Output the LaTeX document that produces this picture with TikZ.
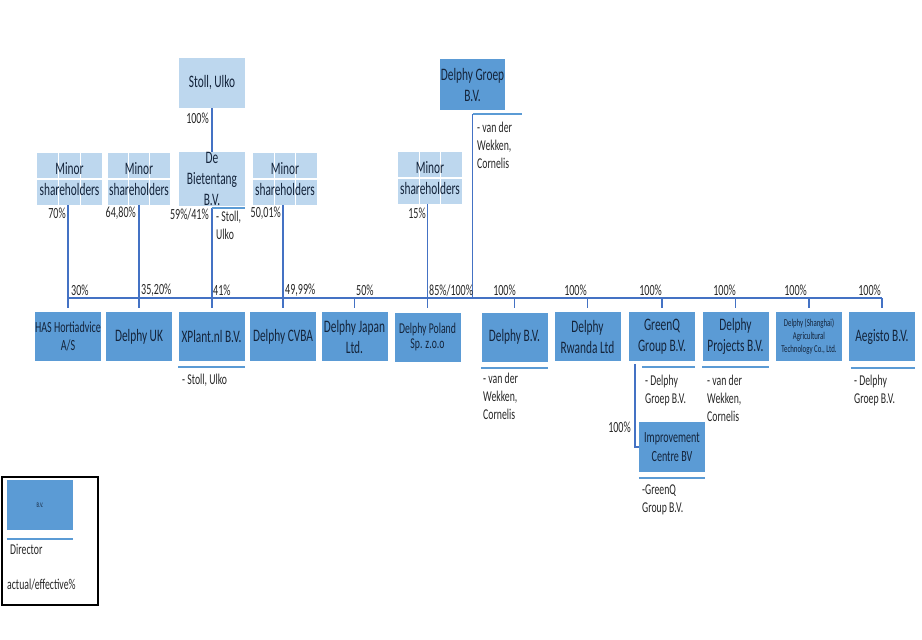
\documentclass[tikz,border=0pt]{standalone}
\usepackage{fontspec}
\setmainfont{Carlito}[FakeStretch=0.65]
\usetikzlibrary{calc}
\definecolor{db}{HTML}{5B9BD5}
\definecolor{lb}{HTML}{BDD7EE}
\definecolor{cn}{HTML}{4472C4}
\definecolor{tx}{HTML}{14243B}
\definecolor{lbl}{HTML}{262626}
\newcommand\fBox{\fontsize{17.5}{21}\selectfont}
\newcommand\fMid{\fontsize{15.5}{18.7}\selectfont}
\newcommand\fPol{\fontsize{15}{15.5}\selectfont}
\newcommand\fDir{\fontsize{15}{17.8}\selectfont}
\newcommand\fTiny{\fontsize{10.5}{13.3}\selectfont}
\newcommand\fLeg{\fontsize{7}{8}\selectfont}
\begin{document}
\begin{tikzpicture}[x=1pt,y=-1pt,
  cobox/.style={fill=db, minimum width=66pt, minimum height=49pt, inner sep=0pt, align=center, text=tx, font=\fBox},
  lbox/.style={fill=lb, minimum width=66pt, minimum height=52pt, inner sep=0pt, align=center, text=tx, font=\fBox},
  grid3/.style={lbox, path picture={
      \draw[white, line width=1.6pt]
        ($(path picture bounding box.north west)!1/3!(path picture bounding box.north east)$) --
        ($(path picture bounding box.south west)!1/3!(path picture bounding box.south east)$)
        ($(path picture bounding box.north west)!2/3!(path picture bounding box.north east)$) --
        ($(path picture bounding box.south west)!2/3!(path picture bounding box.south east)$)
        ($(path picture bounding box.north west)!1/2!(path picture bounding box.south west)$) --
        ($(path picture bounding box.north east)!1/2!(path picture bounding box.south east)$);}},
  conn/.style={draw=cn, line width=1.4pt},
  dirl/.style={draw=db, line width=1.8pt},
  pct/.style={inner sep=0pt, text=lbl, font=\fMid},
  dtext/.style={inner sep=0pt, anchor=north west, align=left, text=lbl, font=\fDir},
]
\useasboundingbox (0,0) rectangle (922,640);

% upper level
\node[lbox, minimum height=50pt] (stoll) at (212,83) {Stoll, Ulko};
\node[lbox] (biet) at (212,179) {De\\Bietentang\\B.V.};
\node[grid3, minimum width=65pt] (ms1) at (69.5,179) {Minor\\shareholders};
\node[grid3, minimum width=62pt] (ms2) at (139,179) {Minor\\shareholders};
\node[grid3, minimum width=64pt] (ms3) at (285,179) {Minor\\shareholders};
\node[grid3, minimum width=64pt] (ms4) at (430,178) {Minor\\shareholders};
\node[cobox, minimum width=65pt, minimum height=51pt] (dg) at (472.5,84.5) {Delphy Groep\\B.V.};

% companies
\node[cobox, font=\fMid] (has) at (68,336.5) {HAS Hortiadvice\\A/S};
\node[cobox] (uk) at (139,336.5) {Delphy UK};
\node[cobox] (xpl) at (211.5,336.5) {XPlant.nl B.V.};
\node[cobox] (cvba) at (283,336.5) {Delphy CVBA};
\node[cobox] (jap) at (354.5,336.5) {Delphy Japan\\Ltd.};
\node[cobox, font=\fPol] (pol) at (427.5,337) {Delphy Poland\\Sp. z.o.o};
\node[cobox] (dbv) at (514.5,337) {Delphy B.V.};
\node[cobox] (rwa) at (587.5,336.5) {Delphy\\Rwanda Ltd};
\node[cobox] (grq) at (662,336.5) {GreenQ\\Group B.V.};
\node[cobox] (prj) at (735.5,336.5) {Delphy\\Projects B.V.};
\node[cobox, font=\fTiny] (sha) at (809,336.5) {Delphy (Shanghai)\\Agricultural\\Technology Co., Ltd.};
\node[cobox] (aeg) at (882,336.5) {Aegisto B.V.};
\node[cobox, font=\fMid, minimum height=50pt] (imp) at (672,447) {Improvement\\Centre BV};

% bar
\coordinate (bar) at (0,298);
\draw[conn, line width=1.8pt] (has.north |- bar) -- (aeg.north |- bar);

% connectors
\draw[conn] (stoll) -- (biet);
\draw[conn, shorten >=4pt] (has.north |- ms1.south) -- (has.north);
\draw[conn, shorten >=4pt] (uk.north |- ms2.south) -- (uk.north);
\draw[conn, shorten >=4pt] ([yshift=-2pt]biet.south) -- (biet.south |- xpl.north);
\draw[conn, shorten >=4pt] (cvba.north |- ms3.south) -- (cvba.north);
\draw[conn, shorten >=4pt] (pol.north |- ms4.south) -- (pol.north);
\draw[conn] ([yshift=-4pt]dg.south) -- (dg.south |- bar);
\foreach \n in {jap,dbv,rwa,grq,prj,sha,aeg}
  \draw[conn, shorten >=4pt] (\n.north |- bar) -- (\n.north);
\draw[conn] ([xshift=6pt,yshift=-3pt]grq.south west) |- (imp.west);

% director lines
\draw[dirl] ([yshift=-2pt]biet.south) -- ([yshift=-2pt]biet.south east);
\draw[dirl] ([yshift=-4pt]dg.south) -- ++(49,0);
\draw[dirl] ([yshift=-6pt]xpl.south west) -- ([yshift=-6pt]xpl.south east);
\draw[dirl] ([yshift=-6.5pt]dbv.south west) -- ([yshift=-6.5pt]dbv.south east);
\draw[dirl] ([xshift=13pt,yshift=-6pt]grq.south west) -- ([yshift=-6pt]grq.south east);
\draw[dirl] ([yshift=-6pt]prj.south west) -- ([yshift=-6pt]prj.south east);
\draw[dirl] ([xshift=2pt,yshift=-6.5pt]aeg.south west) -- ([yshift=-6.5pt]aeg.south east);
\draw[dirl] ([yshift=-6pt]imp.south west) -- ([yshift=-6pt]imp.south east);

% director texts
\node[dtext] (tdg) at (477,122) {- van der\\Wekken,\\Cornelis};
\node[dtext] (tbiet) at (216,211) {- Stoll,\\Ulko};
\node[dtext] (txpl) at (182,374) {- Stoll, Ulko};
\node[dtext] (tdbv) at (483,373) {- van der\\Wekken,\\Cornelis};
\node[dtext] (tgrq) at (645,375) {- Delphy\\Groep B.V.};
\node[dtext] (tprj) at (707,375) {- van der\\Wekken,\\Cornelis};
\node[dtext] (taeg) at (854,375) {- Delphy\\Groep B.V.};
\node[dtext] (timp) at (642,485) {-GreenQ\\Group B.V.};

% percentages
\node[pct, anchor=east] (p1) at (209,118) {100\%};
\node[pct, anchor=east] (p2) at (66,213) {70\%};
\node[pct, anchor=east] (p3) at (136,213) {64,80\%};
\node[pct, anchor=east] (p4) at (209,214) {59\%/41\%};
\node[pct, anchor=east] (p5) at (281,213) {50,01\%};
\node[pct, anchor=east] (p6) at (426,213) {15\%};
\node[pct, anchor=west] (p7) at (71,290) {30\%};
\node[pct, anchor=west] (p8) at (141,290) {35,20\%};
\node[pct, anchor=west] (p9) at (213,290) {41\%};
\node[pct, anchor=west] (p10) at (285,290) {49,99\%};
\node[pct, anchor=west] (p11) at (356,290) {50\%};
\node[pct, anchor=west] (p12) at (429,290) {85\%/100\%};
\node[pct, anchor=east] (p13) at (516,290) {100\%};
\node[pct, anchor=east] (p14) at (587,290) {100\%};
\node[pct, anchor=east] (p15) at (662,290) {100\%};
\node[pct, anchor=east] (p16) at (736,290) {100\%};
\node[pct, anchor=east] (p17) at (807,290) {100\%};
\node[pct, anchor=east] (p18) at (881,290) {100\%};
\node[pct, anchor=east] (p19) at (631,427) {100\%};

% legend
\node[draw=black, line width=1.6pt, minimum width=96pt, minimum height=128pt, inner sep=0pt] (leg) at (50,541) {};
\node[cobox, font=\fLeg, minimum height=50pt] (legbox) at (40,505) {B.V.};
\draw[dirl] ([yshift=-9pt]legbox.south west) -- ([yshift=-9pt]legbox.south east);
\node[pct, anchor=west, font=\fDir] (legdir) at (10,549) {Director};
\node[pct, anchor=west, font=\fDir] (legpct) at (7,585) {actual/effective\%};
\end{tikzpicture}
\end{document}
